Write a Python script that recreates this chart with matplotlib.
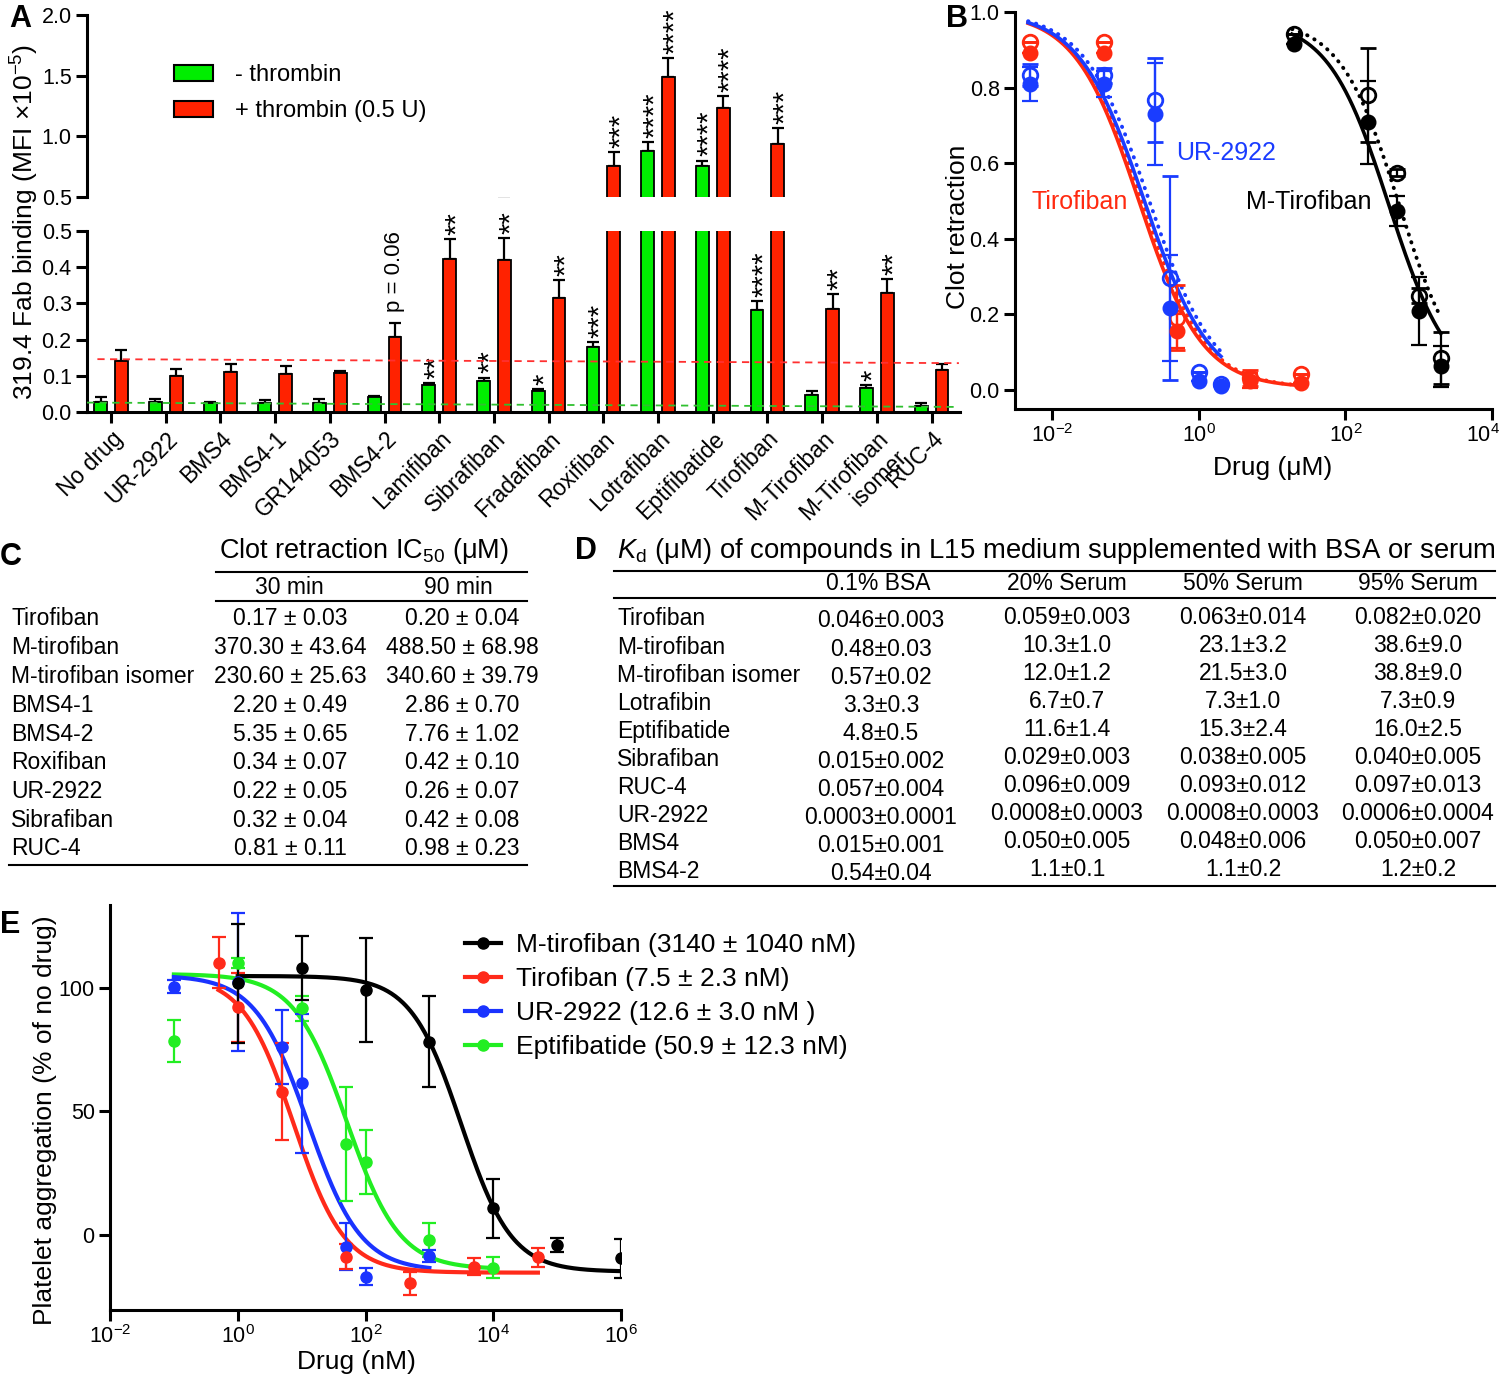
import numpy as np
import matplotlib
matplotlib.use('Agg')
import matplotlib.pyplot as plt
from matplotlib.lines import Line2D
from matplotlib.patches import Patch
from matplotlib.ticker import NullLocator
from matplotlib.transforms import ScaledTranslation

plt.rcParams['font.family'] = ['Liberation Sans', 'DejaVu Sans']
plt.rcParams['mathtext.fontset'] = 'custom'
plt.rcParams['mathtext.rm'] = 'Liberation Sans'
plt.rcParams['mathtext.it'] = 'Liberation Sans:italic'
plt.rcParams['mathtext.bf'] = 'Liberation Sans:bold'
plt.rcParams['mathtext.default'] = 'regular'

# ---------------- Panel A data ----------------
categories = ['No drug', 'UR-2922', 'BMS4', 'BMS4-1', 'GR144053', 'BMS4-2', 'Lamifiban',
              'Sibrafiban', 'Fradafiban', 'Roxifiban', 'Lotrafiban', 'Eptifibatide',
              'Tirofiban', 'M-Tirofiban', 'M-Tirofiban\nisomer', 'RUC-4']
no_thrombin = [0.028, 0.029, 0.024, 0.024, 0.024, 0.041, 0.075, 0.086, 0.058, 0.180,
               0.88, 0.755, 0.282, 0.047, 0.066, 0.017]
no_thrombin_err = [0.014, 0.007, 0.004, 0.009, 0.012, 0.003, 0.004, 0.009, 0.005, 0.014,
                   0.073, 0.045, 0.025, 0.011, 0.009, 0.007]
thrombin = [0.141, 0.100, 0.110, 0.104, 0.107, 0.207, 0.423, 0.420, 0.316, 0.756,
            1.49, 1.236, 0.937, 0.285, 0.329, 0.117]
thrombin_err = [0.030, 0.018, 0.022, 0.023, 0.006, 0.038, 0.055, 0.060, 0.049, 0.115,
                0.156, 0.097, 0.133, 0.041, 0.038, 0.015]
no_thrombin_sig = ['', '', '', '', '', '', '**', '**', '*', '***', '****', '****', '****', '', '*', '']
thrombin_sig = ['', '', '', '', '', 'p = 0.06', '**', '**', '**', '***', '****', '****', '***', '**', '**', '']
baseline_red = [0.146, 0.135]
baseline_green = [0.026, 0.014]
a_yticks_low = [0.0, 0.1, 0.2, 0.3, 0.4, 0.5]
a_yticks_high = [0.5, 1.0, 1.5, 2.0]

# ---------------- Panel B data ----------------
b_conc_tiro = [0.005, 0.05, 0.5, 5, 25]
b_tiro_30 = [0.892, 0.892, 0.156, 0.024, 0.018]
b_tiro_30_err = [0, 0, 0.045, 0.02, 0]
b_tiro_90 = [0.921, 0.921, 0.191, 0.031, 0.041]
b_tiro_90_err = [0, 0, 0.085, 0.02, 0]
b_conc_ur = [0.005, 0.05, 0.25, 0.4, 1.0, 2.0]
b_ur_30 = [0.81, 0.81, 0.731, 0.216, 0.024, 0.011]
b_ur_30_err = [0.045, 0.035, 0.135, 0.14, 0, 0]
b_ur_90 = [0.833, 0.833, 0.767, 0.297, 0.048, 0.015]
b_ur_90_err = [0.03, 0.02, 0.11, 0.27, 0, 0]
b_conc_mt = [20, 200, 500, 1000, 2000]
b_mt_30 = [0.916, 0.708, 0.473, 0.209, 0.062]
b_mt_30_err = [0, 0.11, 0.04, 0.09, 0.055]
b_mt_90 = [0.943, 0.781, 0.575, 0.249, 0.084]
b_mt_90_err = [0, 0.125, 0.01, 0.02, 0.07]
# fitted 4PL parameters (top, bottom, IC50, hill)
b_tiro_fit_30 = (1.0, 0.005, 0.15, 1.0)
b_tiro_fit_90 = (1.0, 0.005, 0.165, 1.0)
b_ur_fit_30 = (1.0, 0.0, 0.18, 0.97)
b_ur_fit_90 = (1.0, 0.0, 0.21, 0.97)
b_mt_fit_30 = (0.98, 0.0, 390, 1.05)
b_mt_fit_90 = (0.98, 0.0, 540, 1.08)

# ---------------- Panel C data ----------------
ic50_rows = ['Tirofiban', 'M-tirofiban', 'M-tirofiban isomer', 'BMS4-1', 'BMS4-2',
             'Roxifiban', 'UR-2922', 'Sibrafiban', 'RUC-4']
ic50_30min = ['0.17 ± 0.03', '370.30 ± 43.64', '230.60 ± 25.63', '2.20 ± 0.49', '5.35 ± 0.65',
              '0.34 ± 0.07', '0.22 ± 0.05', '0.32 ± 0.04', '0.81 ± 0.11']
ic50_90min = ['0.20 ± 0.04', '488.50 ± 68.98', '340.60 ± 39.79', '2.86 ± 0.70', '7.76 ± 1.02',
              '0.42 ± 0.10', '0.26 ± 0.07', '0.42 ± 0.08', '0.98 ± 0.23']

# ---------------- Panel D data ----------------
kd_rows = ['Tirofiban', 'M-tirofiban', 'M-tirofiban isomer', 'Lotrafibin', 'Eptifibatide',
           'Sibrafiban', 'RUC-4', 'UR-2922', 'BMS4', 'BMS4-2']
kd_cols = ['0.1% BSA', '20% Serum', '50% Serum', '95% Serum']
kd_bsa = ['0.046±0.003', '0.48±0.03', '0.57±0.02', '3.3±0.3', '4.8±0.5', '0.015±0.002',
          '0.057±0.004', '0.0003±0.0001', '0.015±0.001', '0.54±0.04']
kd_serum20 = ['0.059±0.003', '10.3±1.0', '12.0±1.2', '6.7±0.7', '11.6±1.4', '0.029±0.003',
              '0.096±0.009', '0.0008±0.0003', '0.050±0.005', '1.1±0.1']
kd_serum50 = ['0.063±0.014', '23.1±3.2', '21.5±3.0', '7.3±1.0', '15.3±2.4', '0.038±0.005',
              '0.093±0.012', '0.0008±0.0003', '0.048±0.006', '1.1±0.2']
kd_serum95 = ['0.082±0.020', '38.6±9.0', '38.8±9.0', '7.3±0.9', '16.0±2.5', '0.040±0.005',
              '0.097±0.013', '0.0006±0.0004', '0.050±0.007', '1.2±0.2']

# ---------------- Panel E data ----------------
e_conc_mtiro = [1, 10, 100, 1000, 1e4, 1e5, 1e6]
e_mtiro = [101.8, 108, 99, 78.2, 10.8, -4.0, -9.4]
e_mtiro_err = [24, 13, 21, 18.5, 12, 3, 8]
e_conc_tiro = [0.5, 1, 5, 50, 500, 5000, 50000]
e_tiro = [110, 92, 58, -8.8, -19.5, -12.8, -9]
e_tiro_err = [10.3, 14, 19.6, 5, 4.7, 3.4, 3.8]
e_conc_ur = [0.1, 1, 5, 10, 50, 100, 1000]
e_ur = [100.4, 102.3, 76.1, 61.3, -4.7, -16.8, -8.5]
e_ur_err = [2.7, 28, 15, 28, 9.5, 3.5, 2.5]
e_conc_epti = [0.1, 1, 10, 50, 100, 1000, 10000]
e_epti = [78.4, 109.8, 91.6, 36.7, 29.4, -2, -13.2]
e_epti_err = [8.5, 2, 5, 23, 13, 6.7, 4.2]
e_mtiro_fit = (104.7, -14.8, 3140, 1.1)
e_tiro_fit = (105, -15.2, 7.5, 1.09)
e_ur_fit = (105, -14.5, 12.6, 1.05)
e_epti_fit = (105.5, -13.8, 50.9, 1.05)
e_labels = ['M-tirofiban (3140 ± 1040 nM)', 'Tirofiban (7.5 ± 2.3 nM)',
            'UR-2922 (12.6 ± 3.0 nM )', 'Eptifibatide (50.9 ± 12.3 nM)']


def logistic(x, p):
    top, bottom, ic50, hill = p
    return bottom + (top - bottom) / (1 + (x / ic50) ** hill)


W, H = 1500, 1377
fig = plt.figure(figsize=(15, 13.77), dpi=100)


def box(l, t, r, b):
    return [l / W, 1 - b / H, (r - l) / W, (b - t) / H]


def T(px, py, s, **kw):
    return fig.text(px / W, 1 - py / H, s, **kw)


def HL(x0, x1, y, lw=1.5):
    fig.add_artist(Line2D([x0 / W, x1 / W], [1 - y / H, 1 - y / H], transform=fig.transFigure,
                          color='black', lw=lw))


def style(ax):
    for s in ['top', 'right']:
        ax.spines[s].set_visible(False)
    for s in ['left', 'bottom']:
        ax.spines[s].set_linewidth(2.2)
    ax.tick_params(width=2.2, length=8, labelsize=15.5, direction='out', pad=3)


GREEN = '#00ee00'
RED = '#ff2200'

# ================= Panel A =================
axA_lo = fig.add_axes(box(87, 231, 960, 412))
axA_hi = fig.add_axes(box(87, 15, 960, 197))
xpos = np.arange(len(categories))
off, bw = 0.19, 0.235
n = len(categories)
for ax in (axA_lo, axA_hi):
    ax.bar(xpos - off, no_thrombin, bw, color=GREEN, edgecolor='black', linewidth=1.3, zorder=3)
    ax.bar(xpos + off, thrombin, bw, color=RED, edgecolor='black', linewidth=1.3, zorder=3)
    ax.errorbar(xpos - off, no_thrombin, yerr=[np.zeros(n), no_thrombin_err], fmt='none',
                ecolor='black', elinewidth=1.6, capsize=4, capthick=1.6, zorder=2)
    ax.errorbar(xpos + off, thrombin, yerr=[np.zeros(n), thrombin_err], fmt='none',
                ecolor='black', elinewidth=1.6, capsize=4, capthick=1.6, zorder=2)
    ax.set_xlim(-0.44, 15.52)
    style(ax)

axA_lo.plot([-0.25, 15.5], baseline_red, ls=(0, (4, 3)), color='#ff3030', lw=1.3, zorder=4)
axA_lo.plot([-0.44, 15.5], baseline_green, ls=(0, (4, 3)), color='#30c030', lw=1.3, zorder=4)

axA_lo.set_ylim(0, 0.5)
axA_lo.set_yticks(a_yticks_low)
axA_lo.set_yticklabels([f'{v:.1f}' for v in a_yticks_low])
axA_lo.set_xticks(xpos)
axA_lo.set_xticklabels(categories, rotation=45, ha='right', rotation_mode='anchor', fontsize=16.5,
                       multialignment='right')
axA_hi.set_ylim(0.5, 2.0)
axA_hi.set_yticks(a_yticks_high)
axA_hi.set_yticklabels([f'{v:.1f}' for v in a_yticks_high])
axA_hi.spines['bottom'].set_visible(False)
axA_hi.set_xticks([])

for vals, errs, sigs, dx in ((no_thrombin, no_thrombin_err, no_thrombin_sig, -off),
                             (thrombin, thrombin_err, thrombin_sig, off)):
    for i, (v, e, s) in enumerate(zip(vals, errs, sigs)):
        if not s:
            continue
        top = v + e
        ax = axA_hi if top > 0.5 else axA_lo
        if s.startswith('p'):
            ax.annotate(s, xy=(i + dx, top), xytext=(0, 8), textcoords='offset points',
                        rotation=90, ha='center', va='bottom', fontsize=16)
        else:
            ax.annotate(s, xy=(i + dx, top), xytext=(5, 3), textcoords='offset points',
                        rotation=90, ha='center', va='bottom', fontsize=21)

handlesA = [Patch(facecolor=GREEN, edgecolor='black', lw=1.5, label='- thrombin'),
            Patch(facecolor=RED, edgecolor='black', lw=1.5, label='+ thrombin (0.5 U)')]
axA_hi.legend(handles=handlesA, loc='upper left', bbox_to_anchor=(174 / W, 1 - 64 / H),
              bbox_transform=fig.transFigure, frameon=False, fontsize=17, handlelength=1.65,
              handleheight=0.65, handletextpad=0.95, labelspacing=0.6, borderpad=0,
              borderaxespad=0)
T(25, 222, '319.4 Fab binding (MFI ×10$^{-5}$)', rotation=90, ha='center', va='center', fontsize=19)
T(9, 27, 'A', fontsize=22, fontweight='bold', va='baseline')

# ================= Panel B =================
BLUE = '#1a3cff'
REDB = '#ff2a10'
axB = fig.add_axes(box(1015, 12, 1492, 409))
axB.set_xscale('log')
style(axB)
series_B = [
    (b_conc_tiro, b_tiro_30, b_tiro_30_err, b_tiro_90, b_tiro_90_err, b_tiro_fit_30, b_tiro_fit_90, REDB),
    (b_conc_ur, b_ur_30, b_ur_30_err, b_ur_90, b_ur_90_err, b_ur_fit_30, b_ur_fit_90, BLUE),
    (b_conc_mt, b_mt_30, b_mt_30_err, b_mt_90, b_mt_90_err, b_mt_fit_30, b_mt_fit_90, 'black'),
]
for conc, y30, e30, y90, e90, f30, f90, col in series_B:
    conc = np.array(conc)
    xs = np.logspace(np.log10(conc[0]) - 0.03, np.log10(conc[-1]), 300)
    axB.plot(xs, logistic(xs, f30), color=col, lw=2.6, zorder=2)
    axB.plot(xs, logistic(xs, f90), color=col, lw=2.8, ls=(0, (0.1, 2.0)),
             dash_capstyle='round', zorder=2)
    axB.errorbar(conc, y90, yerr=e90, fmt='o', ms=10.5, mfc='none', mec=col, mew=2, ecolor=col,
                 elinewidth=1.6, capsize=6, capthick=1.6, zorder=3)
    axB.errorbar(conc, y30, yerr=e30, fmt='o', ms=10.5, mfc=col, mec=col, ecolor=col,
                 elinewidth=1.6, capsize=6, capthick=1.6, zorder=4)
axB.set_xlim(10 ** -2.51, 1e4)
axB.set_ylim(-0.051, 1.0)
axB.set_xticks([1e-2, 1e0, 1e2, 1e4])
axB.set_xticklabels(['$10^{-2}$', '$10^{0}$', '$10^{2}$', '$10^{4}$'])
axB.xaxis.set_minor_locator(NullLocator())
last = axB.get_xticklabels()[-1]
last.set_transform(last.get_transform() + ScaledTranslation(-9 / 100, 0, fig.dpi_scale_trans))
axB.set_yticks([0, 0.2, 0.4, 0.6, 0.8, 1.0])
axB.set_yticklabels(['0.0', '0.2', '0.4', '0.6', '0.8', '1.0'])
axB.text(0.486, 0.627, 'UR-2922', color=BLUE, fontsize=18, va='center', ha='left')
axB.text(0.0052, 0.497, 'Tirofiban', color=REDB, fontsize=18, va='center', ha='left')
axB.text(4.4, 0.497, 'M-Tirofiban', color='black', fontsize=18, va='center', ha='left')
T(958, 227, 'Clot retraction', rotation=90, ha='center', va='center', fontsize=19)
T(1273, 468, 'Drug (μM)', ha='center', va='center', fontsize=19)
T(946, 27, 'B', fontsize=22, fontweight='bold', va='baseline')

# ================= Panel C =================
T(0, 565, 'C', fontsize=22, fontweight='bold', va='baseline')
T(364, 551, 'Clot retraction IC$_{50}$ (μM)', ha='center', va='center', fontsize=19.5)
HL(216, 527, 572)
T(289, 587, '30 min', ha='center', va='center', fontsize=16.5)
T(458, 587, '90 min', ha='center', va='center', fontsize=16.5)
HL(216, 527, 601)
for i, (r, a, b) in enumerate(zip(ic50_rows, ic50_30min, ic50_90min)):
    y = 619 + i * 28.75
    T(11, y, r, ha='left', va='center', fontsize=16.5)
    T(290, y, a, ha='center', va='center', fontsize=16.5)
    T(462, y, b, ha='center', va='center', fontsize=16.5)
HL(9, 527, 865)

# ================= Panel D =================
T(575, 559, 'D', fontsize=22, fontweight='bold', va='baseline')
T(617, 551, r'$\mathit{K}_{\mathrm{d}}$ (μM) of compounds in L15 medium supplemented with BSA or serum',
  ha='left', va='center', fontsize=19.8)
HL(614, 1495, 571)
col_x = [878, 1067, 1243, 1418]
for cx, c in zip(col_x, kd_cols):
    T(cx, 584, c, ha='center', va='center', fontsize=16.5)
HL(614, 1495, 598)
for i, r in enumerate(kd_rows):
    y = 619 + i * 28.1
    T(617, y, r, ha='left', va='center', fontsize=16.5)
    for j, col in enumerate((kd_bsa, kd_serum20, kd_serum50, kd_serum95)):
        T(col_x[j] + (3 if j == 0 else 0), y + (2 if j == 0 else -2), col[i],
          ha='center', va='center', fontsize=16.5)
HL(614, 1495, 886)

# ================= Panel E =================
BLUE_E = '#1a33ff'
RED_E = '#ff2a1a'
GREEN_E = '#22ee22'
axE = fig.add_axes(box(110, 905, 621, 1310))
axE.set_xscale('log')
style(axE)
series_E = [
    (e_conc_epti, e_epti, e_epti_err, e_epti_fit, GREEN_E),
    (e_conc_ur, e_ur, e_ur_err, e_ur_fit, BLUE_E),
    (e_conc_tiro, e_tiro, e_tiro_err, e_tiro_fit, RED_E),
    (e_conc_mtiro, e_mtiro, e_mtiro_err, e_mtiro_fit, 'black'),
]
for conc, y, e, fit, col in series_E:
    conc = np.array(conc)
    xs = np.logspace(np.log10(conc[0]), np.log10(conc[-1]), 300)
    axE.plot(xs, logistic(xs, fit), color=col, lw=3, zorder=2)
    axE.errorbar(conc, y, yerr=e, fmt='o', ms=8, mfc=col, mec=col, ecolor=col,
                 elinewidth=1.6, capsize=5, capthick=1.6, zorder=3)
axE.set_xlim(1e-2, 1e6)
axE.set_ylim(-30.3, 133.4)
axE.set_xticks([1e-2, 1e0, 1e2, 1e4, 1e6])
axE.set_xticklabels(['$10^{-2}$', '$10^{0}$', '$10^{2}$', '$10^{4}$', '$10^{6}$'])
axE.xaxis.set_minor_locator(NullLocator())
axE.set_yticks([0, 50, 100])
handlesE = [Line2D([], [], color=c, lw=3, marker='o', ms=8) for c in ('black', RED_E, BLUE_E, GREEN_E)]
axE.legend(handles=handlesE, labels=e_labels, loc='upper left', bbox_to_anchor=(465 / W, 1 - 933 / H),
           bbox_transform=fig.transFigure, frameon=False, fontsize=19, handlelength=1.35,
           handletextpad=0.6, labelspacing=0.38, borderpad=0, borderaxespad=0)
T(45, 1120, 'Platelet aggregation (% of no drug)', rotation=90, ha='center', va='center', fontsize=19)
T(356, 1362, 'Drug (nM)', ha='center', va='center', fontsize=19)
T(0, 933, 'E', fontsize=22, fontweight='bold', va='baseline')

fig.savefig('out.png', dpi=100)
